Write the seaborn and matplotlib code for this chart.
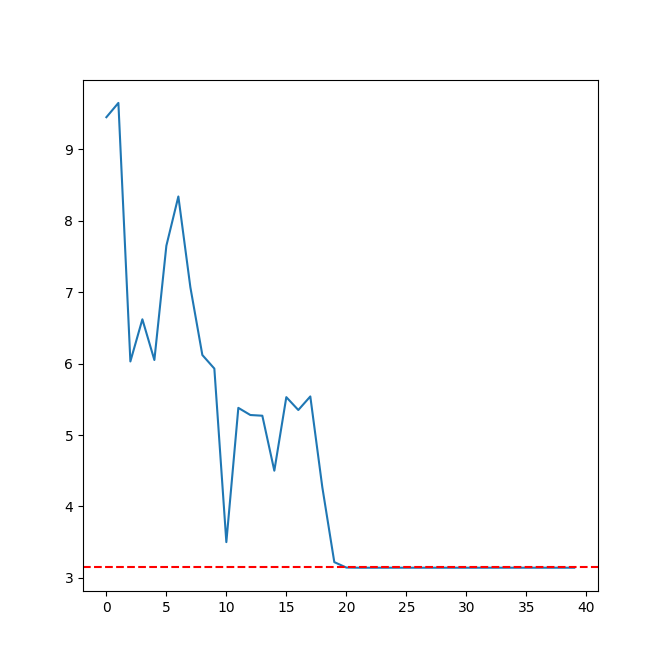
import numpy as np
import pandas as pd
import matplotlib
matplotlib.use("Agg")
import matplotlib.pyplot as plt
import seaborn as sns

# values
iterations = list(range(40))
estimates = [
    9.45, 9.65, 6.03, 6.62, 6.05, 7.65, 8.34, 7.07, 6.12, 5.93,
    3.50, 5.38, 5.28, 5.27, 4.50, 5.53, 5.35, 5.54, 4.27, 3.22,
    3.144, 3.1416, 3.1416, 3.1416, 3.1416, 3.1416, 3.1416, 3.1416, 3.1416, 3.1416,
    3.1416, 3.1416, 3.1416, 3.1416, 3.1416, 3.1416, 3.1416, 3.1416, 3.1416, 3.1416,
]
target = 3.155

df = pd.DataFrame({"iteration": iterations, "estimate": estimates})

fig, ax = plt.subplots(figsize=(6.64, 6.64), dpi=100)
sns.lineplot(data=df, x="iteration", y="estimate", ax=ax, color="#1f77b4")
ax.axhline(target, color="red", linestyle="--")
ax.set_xlabel("")
ax.set_ylabel("")

fig.savefig("out.png", dpi=100)
